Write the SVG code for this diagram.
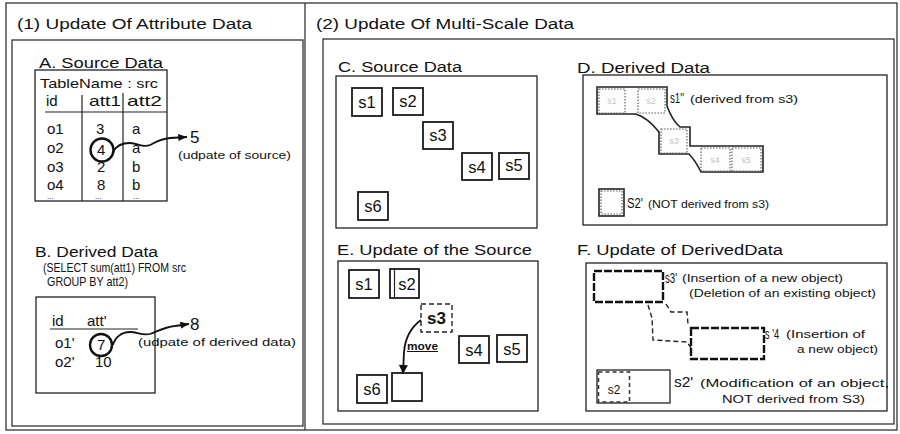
<svg xmlns="http://www.w3.org/2000/svg" width="900" height="434" viewBox="0 0 900 434">
<defs>
<marker id="ah" viewBox="0 0 10 8" refX="10" refY="4" markerWidth="9" markerHeight="7" orient="auto" markerUnits="userSpaceOnUse">
<path d="M0,0 L10,4 L0,8 Z" fill="#111"/>
</marker>
<marker id="ah2" viewBox="0 0 10 10" refX="10" refY="5" markerWidth="10" markerHeight="9" orient="auto" markerUnits="userSpaceOnUse">
<path d="M0,0 L10,5 L0,10 Z" fill="#111"/>
</marker>
<style>
text{font-family:"Liberation Sans",Arial,Helvetica,sans-serif;fill:#111}
.frame{fill:none;stroke:#333;stroke-width:1.3}
.box{fill:#fff;stroke:#222;stroke-width:1.3}
.thin{stroke:#222;stroke-width:1.2;fill:none}
.sq{fill:#fff;stroke:#1a1a1a;stroke-width:1.8}
.ttl{font-size:15.5px}
.cell{font-size:15px}
.lbl{font-size:16.5px;text-anchor:middle}
.note{font-size:11.5px}
.faint{font-size:9px;fill:#c4c4c4;text-anchor:middle}
.dot{fill:#fdfdfd;stroke:#666;stroke-width:1.2;stroke-dasharray:1.6 1.4}
.dash{fill:none;stroke:#222;stroke-width:1.4;stroke-dasharray:5 3}
.thickdash{fill:#fff;stroke:#111;stroke-width:2.4;stroke-dasharray:8 2}
.conn{fill:none;stroke:#111;stroke-width:1.8}
.circ{fill:none;stroke:#111;stroke-width:2.4}
</style>
</defs>

<g id="frames">
<rect class="frame" x="6" y="3" width="891" height="427"/>
<line class="frame" x1="305" y1="3" x2="305" y2="430"/>
<rect class="frame" x="12" y="40" width="291" height="386"/>
<rect class="frame" x="323" y="39" width="571" height="385"/>
<text class="ttl" x="17" y="29" textLength="235" lengthAdjust="spacingAndGlyphs">(1) Update Of Attribute Data</text>
<text class="ttl" x="316" y="29" textLength="258" lengthAdjust="spacingAndGlyphs">(2) Update Of Multi-Scale Data</text>
</g>

<g id="panelA">
<text class="ttl" x="39" y="68" textLength="124" lengthAdjust="spacingAndGlyphs">A. Source Data</text>
<rect class="box" x="35" y="70" width="132" height="131"/>
<text x="40" y="88" font-size="13" textLength="118" lengthAdjust="spacingAndGlyphs">TableName : src</text>
<text class="cell" x="46" y="106">id</text>
<text class="cell" x="89" y="106" textLength="32" lengthAdjust="spacingAndGlyphs">att1</text>
<text class="cell" x="127" y="106" textLength="35" lengthAdjust="spacingAndGlyphs">att2</text>
<line class="thin" x1="45" y1="112" x2="167" y2="112"/>
<line class="thin" x1="82" y1="95" x2="82" y2="201"/>
<line class="thin" x1="123" y1="93" x2="123" y2="201"/>
<text class="cell" x="47" y="134">o1</text><text class="cell" x="96" y="134">3</text><text class="cell" x="132" y="134">a</text>
<text class="cell" x="47" y="153">o2</text><text class="cell" x="97" y="155">4</text><text class="cell" x="132" y="153">a</text>
<text class="cell" x="47" y="172">o3</text><text class="cell" x="97" y="172">2</text><text class="cell" x="132" y="172">b</text>
<text class="cell" x="47" y="190">o4</text><text class="cell" x="97" y="190">8</text><text class="cell" x="132" y="190">b</text>
<text x="47" y="199" font-size="8">...</text><text x="95" y="199" font-size="8">...</text><text x="133" y="199" font-size="8">...</text>
<circle class="circ" cx="102" cy="150" r="11.5"/>
<text x="190" y="143" font-size="17">5</text>
<text class="note" x="178" y="159" textLength="113" lengthAdjust="spacingAndGlyphs">(udpate of source)</text>
</g>

<g id="panelB">
<text class="ttl" x="35" y="257" textLength="123" lengthAdjust="spacingAndGlyphs">B. Derived Data</text>
<text x="43" y="272" font-size="13.5" textLength="143" lengthAdjust="spacingAndGlyphs">(SELECT sum(att1) FROM src</text>
<text x="47" y="286" font-size="13.5" textLength="81" lengthAdjust="spacingAndGlyphs">GROUP BY att2)</text>
<rect class="box" x="36" y="297" width="119" height="96"/>
<text class="cell" x="52" y="326">id</text>
<text class="cell" x="87" y="326">att'</text>
<line class="thin" x1="50" y1="329" x2="138" y2="329"/>
<text class="cell" x="55" y="348">o1'</text><text class="cell" x="97" y="350">7</text>
<text class="cell" x="55" y="367">o2'</text><text class="cell" x="95" y="367">10</text>
<circle class="circ" cx="101" cy="345" r="11"/>
<text x="190" y="330" font-size="17">8</text>
<text class="note" x="138" y="346" textLength="158" lengthAdjust="spacingAndGlyphs">(udpate of derived data)</text>
</g>

<g id="panelC">
<text class="ttl" x="338" y="72" textLength="124" lengthAdjust="spacingAndGlyphs">C. Source Data</text>
<rect class="box" x="336" y="76" width="201" height="152"/>
<g id="c-s1"><rect class="sq" x="352" y="88" width="30" height="28"/><text class="lbl" x="367" y="108">s1</text></g>
<g id="c-s2"><rect class="sq" x="393" y="88" width="30" height="27"/><text class="lbl" x="408" y="107">s2</text></g>
<g id="c-s3"><rect class="sq" x="423" y="122" width="30" height="27"/><text class="lbl" x="438" y="141">s3</text></g>
<g id="c-s4"><rect class="sq" x="462" y="153" width="30" height="27"/><text class="lbl" x="477" y="173">s4</text></g>
<g id="c-s5"><rect class="sq" x="499" y="153" width="30" height="26"/><text class="lbl" x="514" y="171">s5</text></g>
<g id="c-s6"><rect class="sq" x="358" y="192" width="30" height="28"/><text class="lbl" x="373" y="212">s6</text></g>
</g>

<g id="panelD">
<text class="ttl" x="577" y="73" textLength="133" lengthAdjust="spacingAndGlyphs">D. Derived Data</text>
<rect class="box" x="583" y="75" width="304" height="150"/>
<g id="d-s1pp">
<path d="M597,87 L667,87 L667,106 Q672,120 680,127 L690,127 L690,146 L763,146 L763,172 L701,172 Q695,160 689,154 L659,154 L659,132 Q648,118 636,114 L597,114 Z" fill="#fdfdfd" stroke="#222" stroke-width="1.6"/>
<rect class="dot" x="599" y="89" width="26" height="24"/>
<rect class="dot" x="638" y="89" width="27" height="24"/>
<rect class="dot" x="661" y="129" width="26" height="24"/>
<rect class="dot" x="701" y="148" width="29" height="23"/>
<rect class="dot" x="732" y="148" width="29" height="23"/>
<text class="faint" x="612" y="104">s1</text>
<text class="faint" x="651" y="104">s2</text>
<text class="faint" x="674" y="144">s3</text>
<text class="faint" x="715" y="163">s4</text>
<text class="faint" x="746" y="163">s5</text>
<text x="670" y="103" font-size="15.5" textLength="14" lengthAdjust="spacingAndGlyphs">s1''</text>
<text class="note" x="690" y="103" textLength="108" lengthAdjust="spacingAndGlyphs">(derived from s3)</text>
</g>
<g id="d-s2p">
<rect x="599" y="189" width="25" height="27" fill="#fff" stroke="#222" stroke-width="1.6"/>
<rect class="dot" x="601" y="191" width="21" height="23"/>
<text x="627" y="208" font-size="15.5" textLength="16" lengthAdjust="spacingAndGlyphs">S2'</text>
<text class="note" x="648" y="208" textLength="121" lengthAdjust="spacingAndGlyphs">(NOT derived from s3)</text>
</g>
</g>

<g id="panelE">
<text class="ttl" x="337" y="255" textLength="195" lengthAdjust="spacingAndGlyphs">E. Update of the Source</text>
<rect class="box" x="338" y="261" width="200" height="150"/>
<g id="e-s1"><rect class="sq" x="349" y="270" width="30" height="28"/><text class="lbl" x="364" y="290">s1</text></g>
<g id="e-s2"><rect class="sq" x="390" y="269" width="29" height="29"/><line x1="394.5" y1="270" x2="394.5" y2="297" stroke="#222" stroke-width="1.2"/><text class="lbl" x="407" y="290">s2</text></g>
<g id="e-s3"><rect class="dash" x="421" y="304" width="31" height="28" stroke-dasharray="3 2" stroke-width="1.6"/><text x="436.5" y="324" font-size="17" text-anchor="middle" font-weight="bold">s3</text></g>
<g id="e-s4"><rect class="sq" x="459" y="336" width="30" height="27"/><text class="lbl" x="474" y="356">s4</text></g>
<g id="e-s5"><rect class="sq" x="497" y="335" width="30" height="27"/><text class="lbl" x="512" y="355">s5</text></g>
<g id="e-s6"><rect class="sq" x="357" y="375" width="30" height="28"/><text class="lbl" x="372" y="395">s6</text></g>
<g id="e-new"><rect class="sq" x="392" y="373" width="30" height="28"/></g>
<text x="407" y="350" font-size="10" font-weight="bold" text-decoration="underline" textLength="31" lengthAdjust="spacingAndGlyphs">move</text>
</g>

<g id="panelF">
<text class="ttl" x="577" y="255" textLength="206" lengthAdjust="spacingAndGlyphs">F. Update of DerivedData</text>
<rect class="box" x="586" y="263" width="301" height="148"/>
<g id="f-s3p">
<rect class="thickdash" x="594" y="271" width="69" height="31"/>
<text x="665" y="283" font-size="15.5" textLength="12" lengthAdjust="spacingAndGlyphs">s3'</text>
<text class="note" x="682" y="282" textLength="161" lengthAdjust="spacingAndGlyphs">(Insertion of a new object)</text>
</g>
<g id="f-del">
<text class="note" x="689" y="297" textLength="187" lengthAdjust="spacingAndGlyphs">(Deletion of an existing object)</text>
</g>
<g id="f-s4p">
<rect class="thickdash" x="691" y="328" width="73" height="31"/>
<text x="765" y="339" font-size="15.5" textLength="14" lengthAdjust="spacingAndGlyphs">s '4</text>
<text class="note" x="786" y="338" textLength="79" lengthAdjust="spacingAndGlyphs">(Insertion of</text>
<text class="note" x="797" y="353" textLength="81" lengthAdjust="spacingAndGlyphs">a new object)</text>
</g>
<g id="f-s2p">
<rect x="597" y="370" width="73" height="33" fill="#fff" stroke="#222" stroke-width="1.3"/>
<rect x="598.5" y="372" width="31" height="30" fill="none" stroke="#333" stroke-width="1.5" stroke-dasharray="4 3"/>
<text x="614" y="394" font-size="12" fill="#999" text-anchor="middle">s2</text>
<text x="674" y="387" font-size="15.5">s2'</text>
<text class="note" x="700" y="387" textLength="189" lengthAdjust="spacingAndGlyphs">(Modification of an object,</text>
<text class="note" x="722" y="403" textLength="143" lengthAdjust="spacingAndGlyphs">NOT derived from S3)</text>
</g>
</g>

<g id="connectors">
<path class="conn" d="M113,152 C116,146 122,143 130,143 C138,143 142,148 150,145 C156,142 160,139 170,138 L187,137" marker-end="url(#ah)"/>
<path class="conn" d="M113,345 C115,337 122,332 130,332 C138,332 142,336 150,334 C158,331 165,327 175,326 L189,324" marker-end="url(#ah)"/>
<path class="conn" d="M421,320 C410,328 405,340 404,352 L403,374" marker-end="url(#ah2)"/>
<path class="dash" d="M648,305 L652,318 L653,340 L687,342 L691,348"/>
<path class="dash" d="M666,304 L671,312 L687,312 L688,324"/>
</g>
</svg>
